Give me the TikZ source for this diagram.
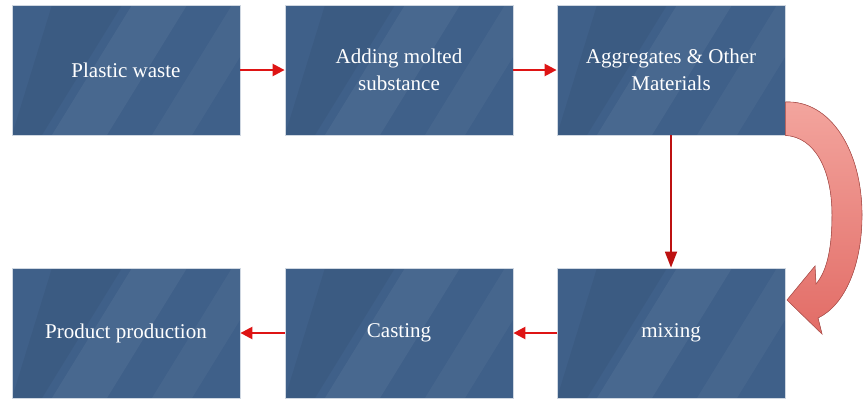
\documentclass[tikz,border=0pt]{standalone}
\usepackage{fontspec}
\setmainfont{Liberation Serif}
\usetikzlibrary{arrows.meta}
\definecolor{boxblue}{RGB}{63,96,137}
\definecolor{flowred}{RGB}{222,20,20}
\definecolor{bendtop}{RGB}{243,165,158}
\definecolor{bendbot}{RGB}{226,108,102}
\tikzset{
  procbox/.style={rectangle, minimum width=228pt, minimum height=130pt,
    fill=boxblue, draw=white!75!boxblue, line width=0.8pt, text=white,
    align=center, font=\fontsize{21}{27}\selectfont,
    path picture={
      \fill[white,opacity=0.05]
        ([xshift=40pt]path picture bounding box.south west) --
        ([xshift=120pt]path picture bounding box.north west) --
        ([xshift=175pt]path picture bounding box.north west) --
        ([xshift=95pt]path picture bounding box.south west) -- cycle;
      \fill[white,opacity=0.04]
        ([xshift=140pt]path picture bounding box.south west) --
        ([xshift=220pt]path picture bounding box.north west) --
        ([xshift=260pt]path picture bounding box.north west) --
        ([xshift=180pt]path picture bounding box.south west) -- cycle;
      \fill[black,opacity=0.05]
        ([xshift=0pt]path picture bounding box.south west) --
        ([xshift=40pt]path picture bounding box.north west) --
        ([xshift=110pt]path picture bounding box.north west) --
        ([xshift=30pt]path picture bounding box.south west) -- cycle;
    }},
  flow/.style={draw=flowred, line width=2.4pt, -{Triangle[length=12pt,width=12pt]}},
  down/.style={draw=flowred!85!black, line width=1.8pt, -{Triangle[length=16pt,width=12pt]}}
}
\begin{document}
\begin{tikzpicture}[x=1pt,y=-1pt]
\useasboundingbox (0,0) rectangle (864,400);
\node[procbox] (plastic) at (126,70) {Plastic waste};
\node[procbox] (adding) at (399,70) {Adding molted\\substance};
\node[procbox] (aggregates) at (671,70) {Aggregates \& Other\\Materials};
\node[procbox] (product) at (126,333) {Product production};
\node[procbox] (casting) at (399,333) {Casting};
\node[procbox] (mixing) at (671,333) {mixing};
\draw[flow] (plastic) -- (adding);
\draw[flow] (adding) -- (aggregates);
\draw[down] (aggregates) -- (mixing);
\draw[flow] (mixing) -- (casting);
\draw[flow] (casting) -- (product);
\filldraw[draw=bendbot!80!black, line width=0.6pt, top color=bendtop, bottom color=bendbot]
  (aggregates.north east |- 0,102) .. controls (830,100) and (862,150) .. (862,215)
  .. controls (862,265) and (845,305) .. (818,318) -- (822,334) -- (787,300)
  -- (815,266) -- (816,284) .. controls (828,270) and (832,245) .. (832,215)
  .. controls (832,170) and (815,137) .. (aggregates.south east) -- cycle;
\end{tikzpicture}
\end{document}
